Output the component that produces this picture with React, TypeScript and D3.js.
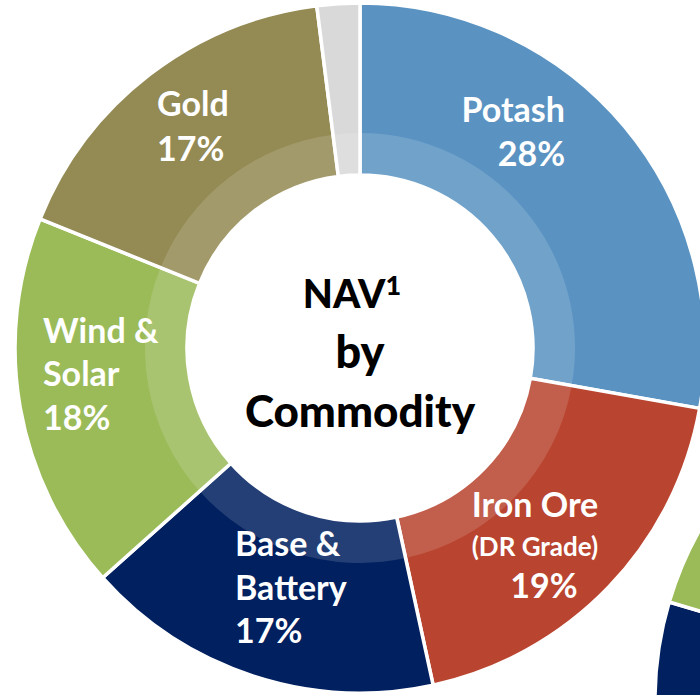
import React from "react";
import * as d3 from "d3";

const categories = ["Potash", "Iron Ore", "Base & Battery", "Wind & Solar", "Gold", "Other"];
const shares = [27.8, 18.8, 16.8, 17.7, 16.9, 2.0];
const shareLabels = ["28%", "19%", "17%", "18%", "17%", ""];
const labelLines = [["Potash"], ["Iron Ore", "(DR Grade)"], ["Base &", "Battery"], ["Wind &", "Solar"], ["Gold"], []];
const sliceColors = ["#5A93C2", "#B9442F", "#00205F", "#9BBB59", "#948A54", "#D9D9D9"];

const secondCategories = ["Base & Battery", "Wind & Solar"];
const secondShares = [20, 15];
const secondColors = ["#00205F", "#9BBB59"];

const centerTitle = ["NAV", "by", "Commodity"];

const W = 700, H = 695;
const FONT = "Lato, 'Open Sans', sans-serif";

type LabelPos = { x: number; anchor: "start" | "middle" | "end"; ys: number[]; pctX?: number };
const labelLayout: LabelPos[] = [
  { x: 565, anchor: "end", ys: [122, 166] },
  { x: 535, anchor: "middle", ys: [517, 556, 598], pctX: 544 },
  { x: 235, anchor: "start", ys: [556, 600, 643] },
  { x: 43, anchor: "start", ys: [343, 386, 430] },
  { x: 157, anchor: "start", ys: [116, 161] },
  { x: 0, anchor: "start", ys: [] },
];

export default function App() {
  const cx = 360, cy = 348;
  const rOuter = 345, rInner = 173, rBand = 215;

  const pie = d3.pie<number>().sort(null).value((d) => d);
  const arcs = pie(shares);
  const arcMain = d3.arc<d3.PieArcDatum<number>>().innerRadius(rInner).outerRadius(rOuter);
  const arcBand = d3.arc<d3.PieArcDatum<number>>().innerRadius(rInner).outerRadius(rBand);

  const deg = Math.PI / 180;
  const s2 = 214.5 * deg;
  const total2 = d3.sum(secondShares);
  const pie2 = d3.pie<number>().sort(null).value((d) => d)
    .startAngle(s2).endAngle(s2 + (2 * Math.PI * total2) / 100);
  const arcs2 = pie2(secondShares);
  const c2x = 1000, c2y = 700;

  return (
    <svg width={W} height={H} style={{ position: "absolute", left: 0, top: 0, background: "#fff" }} fontFamily={FONT}>
      <g transform={`translate(${c2x},${c2y})`}>
        {arcs2.map((a, i) => (
          <path key={secondCategories[i]} d={arcMain(a) || ""} fill={secondColors[i]} stroke="#fff" strokeWidth={3.5} />
        ))}
      </g>
      <g transform={`translate(${cx},${cy})`}>
        {arcs.map((a, i) => (
          <path key={categories[i]} d={arcMain(a) || ""} fill={sliceColors[i]} stroke="#fff" strokeWidth={3.5} />
        ))}
        {arcs.map((a, i) => (
          <path key={"band" + i} d={arcBand(a) || ""} fill="#fff" fillOpacity={0.14} />
        ))}
      </g>
      {labelLayout.map((lp, i) => {
        const lines = labelLines[i];
        if (!lines.length) return null;
        return (
          <g key={"lab" + i} fill="#fff" fontWeight={700} textAnchor={lp.anchor}>
            {lines.map((t, j) => (
              <text key={j} x={lp.x} y={lp.ys[j]} fontSize={t.startsWith("(") ? 26 : 34}>{t}</text>
            ))}
            <text x={lp.pctX ?? lp.x} y={lp.ys[lines.length]} fontSize={34}>{shareLabels[i]}</text>
          </g>
        );
      })}
      <g fill="#000" fontWeight={900} textAnchor="middle">
        <text x={352} y={308} fontSize={39}>
          {centerTitle[0]}
          <tspan fontSize={27} dy={-13}>1</tspan>
        </text>
        <text x={360} y={368} fontSize={45}>{centerTitle[1]}</text>
        <text x={360} y={427} fontSize={44}>{centerTitle[2]}</text>
      </g>
    </svg>
  );
}
